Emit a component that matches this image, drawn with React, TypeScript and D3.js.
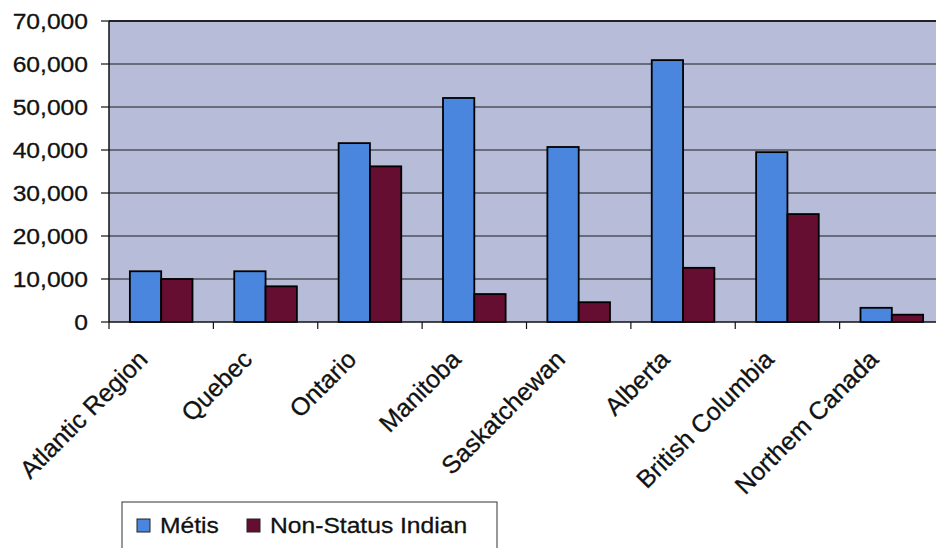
import React from "react";
import * as d3 from "d3";

const categories = [
  "Atlantic Region",
  "Quebec",
  "Ontario",
  "Manitoba",
  "Saskatchewan",
  "Alberta",
  "British Columbia",
  "Northem Canada",
];
const seriesNames = ["Métis", "Non-Status Indian"];
const metis = [11800, 11800, 41600, 52100, 40700, 60900, 39500, 3300];
const nonStatus = [10000, 8300, 36200, 6500, 4600, 12600, 25100, 1700];
const yTicks = [0, 10000, 20000, 30000, 40000, 50000, 60000, 70000];
const colors = ["#4a86de", "#660e32"];

const W = 936;
const H = 548;
const left = 109;
const top = 21;
const bottom = 322;
const right = 944;

export default function App() {
  const x = d3
    .scaleBand<string>()
    .domain(categories)
    .range([left, right])
    .paddingInner(0.4)
    .paddingOuter(0.2);
  const xs = d3
    .scaleBand<string>()
    .domain(seriesNames)
    .range([0, x.bandwidth()]);
  const y = d3.scaleLinear().domain([0, 70000]).range([bottom, top]);
  const step = x.step();
  const fmt = d3.format(",");
  const data = [metis, nonStatus];
  const font = "'Liberation Sans', Arial, sans-serif";

  return (
    <div style={{ position: "absolute", left: 0, top: 0 }}>
      <svg width={W} height={H} style={{ display: "block", background: "#fff" }}>
        <rect x={left} y={top} width={right - left} height={bottom - top} fill="#b7bdd9" />
        {yTicks.map((t) => (
          <g key={t}>
            {t > 0 && (
              <line x1={left} x2={right} y1={y(t)} y2={y(t)} stroke="#1a1a1a" strokeWidth={1} />
            )}
            <line x1={left - 8} x2={left} y1={y(t)} y2={y(t)} stroke="#111" strokeWidth={1.2} />
            <text
              transform={`translate(${left - 21},${y(t) + 8}) scale(1.12,1)`}
              textAnchor="end"
              fontFamily={font}
              fontSize={22}
              fill="#111"
              stroke="#111"
              strokeWidth={0.3}
            >
              {fmt(t)}
            </text>
          </g>
        ))}
        <line x1={left} x2={right} y1={top} y2={top} stroke="#222" strokeWidth={2} />
        {categories.map((c, i) =>
          data.map((s, j) => (
            <rect
              key={c + j}
              x={(x(c) as number) + (xs(seriesNames[j]) as number)}
              y={y(s[i])}
              width={xs.bandwidth()}
              height={bottom - y(s[i])}
              fill={colors[j]}
              stroke="#000"
              strokeWidth={1.8}
            />
          ))
        )}
        <line x1={left} x2={left} y1={top} y2={bottom} stroke="#111" strokeWidth={1.5} />
        <line x1={left} x2={right} y1={bottom} y2={bottom} stroke="#111" strokeWidth={1.5} />
        {d3.range(categories.length + 1).map((i) => (
          <line
            key={i}
            x1={left + i * step}
            x2={left + i * step}
            y1={bottom}
            y2={bottom + 7}
            stroke="#111"
            strokeWidth={1.2}
          />
        ))}
        {categories.map((c) => (
          <text
            key={c}
            transform={`translate(${(x(c) as number) + x.bandwidth() / 2 - 12},${361}) rotate(-45)`}
            textAnchor="end"
            fontFamily={font}
            fontSize={25}
            fill="#111"
            stroke="#111"
            strokeWidth={0.3}
          >
            {c}
          </text>
        ))}
        <rect x={122} y={502} width={375} height={60} fill="#fff" stroke="#333" strokeWidth={1} />
        {seriesNames.map((n, j) => {
          const lx = j === 0 ? 137 : 247;
          return (
            <g key={n}>
              <rect x={lx} y={519} width={13} height={13} fill={colors[j]} stroke="#222" strokeWidth={1} />
              <text
                transform={`translate(${lx + 23},${533}) scale(1.12,1)`}
                fontFamily={font}
                fontSize={22}
                fill="#111"
                stroke="#111"
                strokeWidth={0.3}
              >
                {n}
              </text>
            </g>
          );
        })}
      </svg>
    </div>
  );
}
